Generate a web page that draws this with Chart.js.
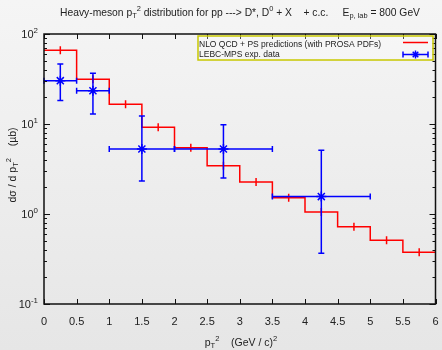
<!DOCTYPE html>
<html>
<head>
<meta charset="utf-8">
<script src="https://cdn.jsdelivr.net/npm/chart.js@4"></script>
<style>
html, body { margin: 0; padding: 0; }
body { background: linear-gradient(#f5f5f5, #e6e6e6); width: 442px; height: 350px; }
#wrap { width: 442px; height: 350px; position: relative; }
</style>
</head>
<body>
<div id="wrap"><canvas id="myChart"></canvas></div>
<script>
// NLO QCD + PS histogram (bin edges in pT^2, values in microbarn)
var binEdges = [0, 0.5, 1, 1.5, 2, 2.5, 3, 3.5, 4, 4.5, 5, 5.5, 6];
var nloValues = [66, 31.4, 16.6, 9.2, 5.45, 3.44, 2.27, 1.52, 1.05, 0.72, 0.51, 0.375];

// LEBC-MPS measured points
var dataX = [0.25, 0.75, 1.5, 2.75, 4.25];
var dataXLow = [0, 0.5, 1, 2, 3.5];
var dataXHigh = [0.5, 1, 2, 3.5, 5];
var dataY = [30.3, 23.4, 5.28, 5.28, 1.56];
var dataYLow = [18.2, 12.9, 2.33, 2.51, 0.366];
var dataYHigh = [46.4, 36.6, 12.3, 9.8, 5.1];

var xTickValues = [0, 0.5, 1, 1.5, 2, 2.5, 3, 3.5, 4, 4.5, 5, 5.5, 6];
var yDecades = [-1, 0, 1, 2];

var FONT = '"Liberation Sans", Arial, sans-serif';
var TEXT = '#222';

// histogram outline
var histPoints = [];
var centerPoints = [];
for (var i = 0; i < nloValues.length; i++) {
    histPoints.push({ x: binEdges[i], y: nloValues[i] });
    histPoints.push({ x: binEdges[i + 1], y: nloValues[i] });
    centerPoints.push({ x: (binEdges[i] + binEdges[i + 1]) / 2, y: nloValues[i] });
}
var expPoints = dataX.map(function (x, i) { return { x: x, y: dataY[i] }; });

// text with sub/superscripts
function richWidth(ctx, parts, size) {
    var w = 0;
    parts.forEach(function (p) {
        var s = (p.sub || p.sup) ? size * 0.72 : size;
        ctx.font = s + 'px ' + FONT;
        w += ctx.measureText(p.t).width;
    });
    return w;
}
function drawRich(ctx, parts, x, y, size, align) {
    var w = richWidth(ctx, parts, size);
    var cx = align === 'center' ? x - w / 2 : (align === 'right' ? x - w : x);
    ctx.textAlign = 'left';
    ctx.textBaseline = 'middle';
    parts.forEach(function (p) {
        var s = (p.sub || p.sup) ? size * 0.72 : size;
        var dy = p.sub ? size * 0.3 : (p.sup ? -size * 0.42 : 0);
        ctx.font = s + 'px ' + FONT;
        ctx.fillText(p.t, cx, y + dy);
        cx += ctx.measureText(p.t).width;
    });
}
function drawStar(ctx, x, y, r) {
    ctx.beginPath();
    ctx.moveTo(x - r, y); ctx.lineTo(x + r, y);
    ctx.moveTo(x, y - r); ctx.lineTo(x, y + r);
    var d = r * 0.7;
    ctx.moveTo(x - d, y - d); ctx.lineTo(x + d, y + d);
    ctx.moveTo(x - d, y + d); ctx.lineTo(x + d, y - d);
    ctx.stroke();
}

var errorBars = {
    id: 'errorBars',
    afterDatasetsDraw: function (chart) {
        var ctx = chart.ctx, xs = chart.scales.x, ys = chart.scales.y;
        ctx.save();
        ctx.strokeStyle = '#0000ff';
        ctx.lineWidth = 1.5;
        for (var i = 0; i < dataX.length; i++) {
            var px = xs.getPixelForValue(dataX[i]), py = ys.getPixelForValue(dataY[i]);
            var x0 = xs.getPixelForValue(dataXLow[i]), x1 = xs.getPixelForValue(dataXHigh[i]);
            var y0 = ys.getPixelForValue(dataYLow[i]), y1 = ys.getPixelForValue(dataYHigh[i]);
            ctx.beginPath();
            ctx.moveTo(x0, py); ctx.lineTo(x1, py);
            ctx.moveTo(x0, py - 3); ctx.lineTo(x0, py + 3);
            ctx.moveTo(x1, py - 3); ctx.lineTo(x1, py + 3);
            ctx.moveTo(px, y0); ctx.lineTo(px, y1);
            ctx.moveTo(px - 3, y0); ctx.lineTo(px + 3, y0);
            ctx.moveTo(px - 3, y1); ctx.lineTo(px + 3, y1);
            ctx.stroke();
        }
        ctx.restore();
    }
};

var decorations = {
    id: 'decorations',
    afterDraw: function (chart) {
        var ctx = chart.ctx, a = chart.chartArea, xs = chart.scales.x, ys = chart.scales.y;
        ctx.save();
        // frame
        ctx.strokeStyle = '#111';
        ctx.lineWidth = 1.5;
        ctx.strokeRect(a.left, a.top, a.right - a.left, a.bottom - a.top);
        // inward ticks
        ctx.lineWidth = 1;
        ctx.beginPath();
        xTickValues.forEach(function (v) {
            var px = Math.round(xs.getPixelForValue(v)) + 0.5;
            ctx.moveTo(px, a.bottom); ctx.lineTo(px, a.bottom - 5);
            ctx.moveTo(px, a.top); ctx.lineTo(px, a.top + 5);
        });
        yDecades.forEach(function (k) {
            for (var m = 1; m <= 9; m++) {
                var v = m * Math.pow(10, k);
                if (v > 100.001) continue;
                var py = Math.round(ys.getPixelForValue(v)) + 0.5;
                var len = m === 1 ? 6 : 3;
                ctx.moveTo(a.left, py); ctx.lineTo(a.left + len, py);
                ctx.moveTo(a.right, py); ctx.lineTo(a.right - len, py);
            }
        });
        ctx.stroke();
        // y tick labels
        ctx.fillStyle = TEXT;
        yDecades.forEach(function (k) {
            var py = ys.getPixelForValue(Math.pow(10, k));
            drawRich(ctx, [{ t: '10' }, { t: String(k), sup: true }], a.left - 6, py + 1, 11, 'right');
        });
        // title
        drawRich(ctx, [
            { t: 'Heavy-meson p' }, { t: 'T', sub: true }, { t: '2', sup: true },
            { t: ' distribution for pp ---> D*, D' }, { t: '0', sup: true },
            { t: ' + X    + c.c.     E' }, { t: 'p, lab', sub: true }, { t: ' = 800 GeV' }
        ], 240, 13, 10.3, 'center');
        // x title
        drawRich(ctx, [
            { t: 'p' }, { t: 'T', sub: true }, { t: '2', sup: true },
            { t: '    (GeV / c)' }, { t: '2', sup: true }
        ], 241, 343, 10.5, 'center');
        // y title
        ctx.save();
        ctx.translate(13, 165);
        ctx.rotate(-Math.PI / 2);
        drawRich(ctx, [
            { t: 'd\u03c3 / d p' }, { t: 'T', sub: true }, { t: '2', sup: true },
            { t: '    (\u00b5b)' }
        ], 0, 0, 10.5, 'center');
        ctx.restore();
        // legend
        ctx.fillStyle = 'rgba(255,255,255,0.25)';
        ctx.fillRect(198, 36, 235, 24);
        ctx.strokeStyle = '#c8c800';
        ctx.lineWidth = 1.5;
        ctx.strokeRect(198, 36, 235, 24);
        ctx.fillStyle = TEXT;
        ctx.font = '8.5px ' + FONT;
        ctx.textAlign = 'left';
        ctx.textBaseline = 'middle';
        ctx.fillText(chart.data.datasets[0].label, 199, 44.5);
        ctx.fillText(chart.data.datasets[2].label, 199, 55);
        ctx.strokeStyle = '#ff0000';
        ctx.beginPath(); ctx.moveTo(403, 42.5); ctx.lineTo(428, 42.5); ctx.stroke();
        ctx.strokeStyle = '#0000ff';
        ctx.beginPath();
        ctx.moveTo(403, 54.5); ctx.lineTo(428, 54.5);
        ctx.moveTo(403, 51.5); ctx.lineTo(403, 57.5);
        ctx.moveTo(428, 51.5); ctx.lineTo(428, 57.5);
        ctx.stroke();
        drawStar(ctx, 415.5, 54.5, 4);
        ctx.restore();
    }
};

var ctx = document.getElementById('myChart').getContext('2d');
var myChart = new Chart(ctx, {
    type: 'scatter',
    data: {
        datasets: [{
            label: 'NLO QCD + PS predictions (with PROSA PDFs)',
            type: 'line',
            data: histPoints,
            borderColor: '#ff0000',
            borderWidth: 1.5,
            pointRadius: 0,
            tension: 0,
            fill: false
        }, {
            label: 'nlo centres',
            data: centerPoints,
            pointStyle: 'line',
            rotation: 90,
            radius: 4,
            borderColor: '#ff0000',
            backgroundColor: '#ff0000',
            borderWidth: 1.5
        }, {
            label: 'LEBC-MPS exp. data',
            data: expPoints,
            pointStyle: 'star',
            radius: 5,
            borderColor: '#0000ff',
            backgroundColor: '#0000ff',
            borderWidth: 1.5
        }]
    },
    options: {
        responsive: true,
        maintainAspectRatio: false,
        animation: false,
        layout: { padding: { top: 34, right: 5, left: 0, bottom: 0 } },
        plugins: { legend: { display: false }, tooltip: { enabled: false } },
        scales: {
            x: {
                type: 'linear', min: 0, max: 6,
                grid: { display: false },
                border: { display: false },
                afterBuildTicks: function (scale) { scale.ticks = xTickValues.map(function (v) { return { value: v }; }); },
                afterFit: function (scale) { scale.height = 46; scale.paddingLeft = 0; scale.paddingRight = 0; },
                ticks: {
                    color: TEXT, font: { family: FONT, size: 11 }, padding: 3, maxRotation: 0, autoSkip: false,
                    callback: function (v) { return String(v); }
                }
            },
            y: {
                type: 'logarithmic', min: 0.1, max: 100,
                grid: { display: false },
                border: { display: false },
                afterFit: function (scale) { scale.width = 44; scale.paddingTop = 0; scale.paddingBottom = 0; },
                ticks: { display: false }
            }
        }
    },
    plugins: [errorBars, decorations]
});
</script>
</body>
</html>
